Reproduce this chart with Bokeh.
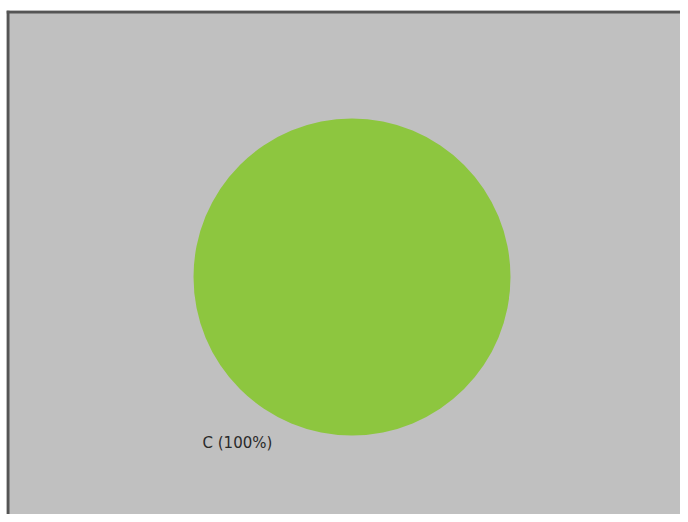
import numpy as np
from bokeh.plotting import figure
from bokeh.models import Range1d, ColumnDataSource, Span
from bokeh.core.properties import value
from bokeh.embed import file_html
from bokeh.resources import INLINE

categories = ["C"]
values = [100]
colors = ["#8DC63F"]

W, H = 680, 514
BL, BT = 6, 10
pw, ph = W - BL, H - BT

p = figure(width=W, height=H, output_backend="svg", toolbar_location=None,
           x_range=Range1d(0, pw), y_range=Range1d(0, ph),
           min_border_left=BL, min_border_top=BT, min_border_right=0, min_border_bottom=0)
p.axis.visible = False
p.grid.visible = False
p.outline_line_color = None
p.border_fill_color = "white"
p.background_fill_color = "#C0C0C0"

# frame edges (left and top) of the chart panel
p.add_layout(Span(location=1.5, dimension="height", line_color="#555555", line_width=3))
p.add_layout(Span(location=ph - 1.5, dimension="width", line_color="#555555", line_width=3))

cx, cy, r = 345.5, 237.5, 158.5
total = sum(values)
fr = np.array(values) / total
ends = np.cumsum(fr) * 2 * np.pi
starts = ends - fr * 2 * np.pi
src = ColumnDataSource(dict(start=starts, end=ends, color=colors,
                            label=[f"{c} ({v/total*100:.0f}%)" for c, v in zip(categories, values)]))
p.wedge(x=cx, y=cy, radius=r, start_angle="start", end_angle="end",
        fill_color="color", line_color=None, source=src)
p.text(x=cx - 149.5, y=cy - 166, text="label", source=src,
       text_font=value("DejaVu Sans"), text_font_size="15px",
       text_color="#2a2a2a", text_baseline="middle", text_align="left")

open("out.html", "w").write(file_html(p, INLINE))
